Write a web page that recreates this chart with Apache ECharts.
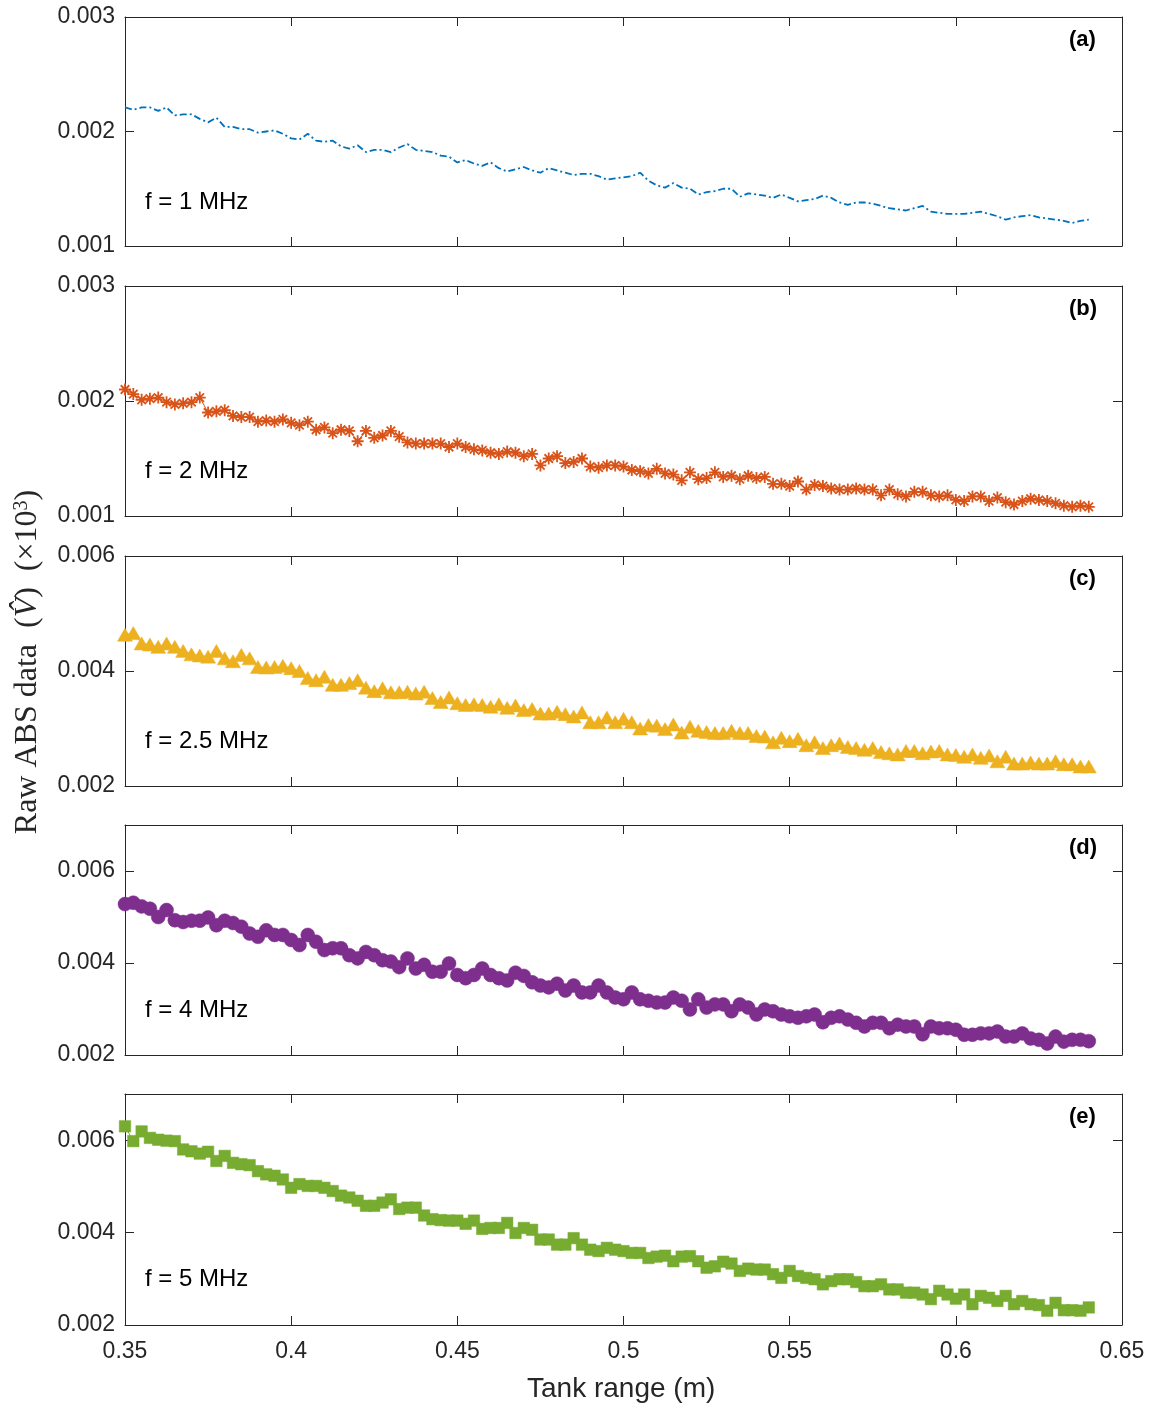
<!DOCTYPE html>
<html><head><meta charset="utf-8">
<script src="https://cdn.jsdelivr.net/npm/echarts@6/dist/echarts.min.js"></script>
<style>html,body{margin:0;padding:0;background:#fff}#c{width:1160px;height:1409px}</style>
</head><body><div id="c"></div>
<script>
// ---- data ----
const tankRange = [
0.35,0.3525,0.355,0.3575,0.36,0.3625,0.365,0.3675,0.37,0.3725,
0.375,0.3775,0.38,0.3825,0.385,0.3875,0.39,0.3925,0.395,0.3975,
0.4,0.4025,0.405,0.4075,0.41,0.4125,0.415,0.4175,0.42,0.4225,
0.425,0.4275,0.43,0.4325,0.435,0.4375,0.44,0.4425,0.445,0.4475,
0.45,0.4525,0.455,0.4575,0.46,0.4625,0.465,0.4675,0.47,0.4725,
0.475,0.4775,0.48,0.4825,0.485,0.4875,0.49,0.4925,0.495,0.4975,
0.5,0.5025,0.505,0.5075,0.51,0.5125,0.515,0.5175,0.52,0.5225,
0.525,0.5275,0.53,0.5325,0.535,0.5375,0.54,0.5425,0.545,0.5475,
0.55,0.5525,0.555,0.5575,0.56,0.5625,0.565,0.5675,0.57,0.5725,
0.575,0.5775,0.58,0.5825,0.585,0.5875,0.59,0.5925,0.595,0.5975,
0.6,0.6025,0.605,0.6075,0.61,0.6125,0.615,0.6175,0.62,0.6225,
0.625,0.6275,0.63,0.6325,0.635,0.6375,0.64];

const sig1MHz = [
0.00221,0.00219,0.00221,0.00221,0.00218,0.00221,0.00214,0.00215,0.00215,0.00211,
0.00208,0.00212,0.00204,0.00204,0.00202,0.00202,0.00199,0.00200,0.00201,0.00198,
0.00194,0.00193,0.00198,0.00192,0.00191,0.00192,0.00187,0.00185,0.00188,0.00182,
0.00184,0.00184,0.00182,0.00186,0.00189,0.00184,0.00183,0.00182,0.00179,0.00178,
0.00173,0.00175,0.00172,0.00170,0.00173,
0.00168,0.00165,0.00167,0.00169,0.00166,0.00164,0.00168,0.00166,0.00164,0.00162,
0.00163,0.00163,0.00161,0.00158,0.00159,0.00160,0.00161,0.00164,0.00157,0.00153,
0.00151,0.00155,0.00151,0.00150,0.00145,0.00147,0.00148,0.00150,0.00150,0.00143,
0.00146,0.00145,0.00144,0.00142,0.00145,0.00142,0.00139,0.00140,0.00141,0.00144,
0.00142,0.00138,0.00136,0.00138,0.00138,0.00137,0.00135,0.00133,0.00132,0.00131,
0.00133,0.00135,0.00130,0.00129,0.00128,0.00128,0.00128,0.00129,0.00130,0.00128,
0.00126,0.00123,0.00125,0.00126,0.00127,0.00125,0.00124,0.00123,0.00122,0.00120,
0.00122,0.00123];

const sig2MHz = [
0.00210,0.00206,0.00201,0.00202,0.00203,0.00199,0.00197,0.00198,0.00199,0.00203,
0.00190,0.00191,0.00192,0.00187,0.00186,0.00186,0.00182,0.00183,0.00182,0.00184,
0.00181,0.00179,0.00182,0.00175,0.00177,0.00172,0.00175,0.00174,0.00165,0.00174,
0.00168,0.00170,0.00174,0.00169,0.00164,0.00163,0.00163,0.00163,0.00163,0.00160,
0.00163,0.00160,0.00158,0.00157,0.00155,
0.00154,0.00156,0.00155,0.00152,0.00154,0.00144,0.00150,0.00152,0.00146,0.00147,
0.00150,0.00143,0.00142,0.00144,0.00144,0.00143,0.00140,0.00139,0.00137,0.00141,
0.00137,0.00136,0.00131,0.00138,0.00132,0.00133,0.00138,0.00134,0.00135,0.00132,
0.00135,0.00133,0.00134,0.00128,0.00128,0.00126,0.00130,0.00123,0.00127,0.00126,
0.00124,0.00123,0.00123,0.00124,0.00123,0.00123,0.00118,0.00123,0.00119,0.00117,
0.00121,0.00121,0.00118,0.00117,0.00118,0.00114,0.00113,0.00117,0.00117,0.00113,
0.00116,0.00112,0.00110,0.00113,0.00115,0.00114,0.00113,0.00111,0.00109,0.00108,
0.00109,0.00108];

const sig25MHz = [
0.00463,0.00466,0.00448,0.00446,0.00442,0.00448,0.00442,0.00435,0.00429,0.00427,
0.00425,0.00435,0.00422,0.00417,0.00428,0.00422,0.00407,0.00406,0.00407,0.00409,
0.00405,0.00400,0.00388,0.00384,0.00390,0.00376,0.00376,0.00379,0.00384,0.00371,
0.00365,0.00370,0.00363,0.00363,0.00364,0.00361,0.00364,0.00353,0.00346,0.00354,
0.00344,0.00341,0.00342,0.00341,0.00338,
0.00342,0.00336,0.00340,0.00332,0.00334,0.00326,0.00326,0.00329,0.00325,0.00321,
0.00328,0.00311,0.00311,0.00319,0.00311,0.00317,0.00311,0.00300,0.00306,0.00305,
0.00299,0.00307,0.00293,0.00303,0.00296,0.00294,0.00292,0.00292,0.00296,0.00292,
0.00292,0.00287,0.00286,0.00276,0.00284,0.00278,0.00282,0.00271,0.00276,0.00266,
0.00271,0.00274,0.00268,0.00266,0.00263,0.00266,0.00259,0.00257,0.00255,0.00261,
0.00261,0.00257,0.00260,0.00261,0.00255,0.00254,0.00251,0.00255,0.00249,0.00253,
0.00243,0.00251,0.00239,0.00239,0.00241,0.00239,0.00239,0.00243,0.00238,0.00238,
0.00234,0.00234];

const sig4MHz = [
0.00528,0.00531,0.00523,0.00518,0.00500,0.00515,0.00493,0.00489,0.00492,0.00492,
0.00499,0.00482,0.00492,0.00487,0.00479,0.00464,0.00457,0.00471,0.00461,0.00461,
0.00450,0.00439,0.00461,0.00446,0.00428,0.00432,0.00432,0.00417,0.00410,0.00424,
0.00417,0.00406,0.00403,0.00391,0.00410,0.00388,0.00396,0.00381,0.00381,0.00399,
0.00374,0.00367,0.00374,0.00388,0.00374,
0.00367,0.00362,0.00379,0.00372,0.00358,0.00351,0.00347,0.00355,0.00340,0.00351,
0.00336,0.00336,0.00351,0.00336,0.00325,0.00321,0.00336,0.00321,0.00318,0.00314,
0.00314,0.00325,0.00318,0.00299,0.00321,0.00303,0.00310,0.00310,0.00295,0.00310,
0.00303,0.00288,0.00299,0.00295,0.00288,0.00284,0.00281,0.00284,0.00288,0.00271,
0.00281,0.00284,0.00277,0.00270,0.00262,0.00270,0.00270,0.00258,0.00266,0.00262,
0.00262,0.00245,0.00262,0.00258,0.00258,0.00255,0.00244,0.00244,0.00247,0.00247,
0.00251,0.00240,0.00240,0.00247,0.00236,0.00233,0.00225,0.00240,0.00229,0.00233,
0.00233,0.00230];

const sig5MHz = [
0.00630,0.00598,0.00619,0.00605,0.00601,0.00599,0.00598,0.00580,0.00576,0.00571,
0.00575,0.00555,0.00566,0.00551,0.00548,0.00546,0.00533,0.00526,0.00523,0.00515,
0.00497,0.00505,0.00501,0.00501,0.00497,0.00490,0.00480,0.00476,0.00469,0.00458,
0.00458,0.00465,0.00472,0.00451,0.00454,0.00454,0.00437,0.00429,0.00427,0.00426,
0.00426,0.00419,0.00426,0.00408,0.00410,
0.00410,0.00421,0.00399,0.00410,0.00406,0.00385,0.00385,0.00374,0.00374,0.00388,
0.00374,0.00363,0.00360,0.00367,0.00363,0.00360,0.00356,0.00356,0.00345,0.00348,
0.00350,0.00338,0.00348,0.00349,0.00338,0.00324,0.00327,0.00337,0.00333,0.00317,
0.00322,0.00320,0.00320,0.00310,0.00302,0.00317,0.00306,0.00302,0.00299,0.00288,
0.00295,0.00299,0.00299,0.00293,0.00284,0.00284,0.00288,0.00277,0.00277,0.00270,
0.00270,0.00266,0.00256,0.00274,0.00266,0.00257,0.00266,0.00245,0.00263,0.00259,
0.00252,0.00263,0.00245,0.00252,0.00245,0.00243,0.00231,0.00248,0.00232,0.00232,
0.00231,0.00238];

const panelLabels = ['(a)','(b)','(c)','(d)','(e)'];
const freqLabels = ['f = 1 MHz','f = 2 MHz','f = 2.5 MHz','f = 4 MHz','f = 5 MHz'];
const yMin = [0.001,0.001,0.002,0.002,0.002];
const yMax = [0.003,0.003,0.006,0.007,0.007];
const yStep = [0.001,0.001,0.002,0.002,0.002];
const xMin = 0.35, xMax = 0.65, xStep = 0.05;
const xLabel = 'Tank range (m)';

// ---- layout / style ----
const series = [sig1MHz, sig2MHz, sig25MHz, sig4MHz, sig5MHz];
const colors = ['#0072BD','#D95319','#EDB120','#7E2F8E','#77AC30'];
const tops = [17,286,556,825,1094];
const hts = [229,230,230,230,231];
const L = 125, W = 997;
const axC = '#262626';
const fontF = 'Arial, "Liberation Sans", Helvetica, sans-serif';
const TICK = 23;
const serifF = '"Liberation Serif", "DejaVu Serif", serif';

const grids=[], xAxes=[], yAxes=[], ser=[], graphics=[];
for (let i=0;i<5;i++){
  grids.push({left:L, top:tops[i], width:W, height:hts[i], containLabel:false});
  const axLine = {show:true, onZero:false, lineStyle:{color:axC, width:1}};
  const axTick = {show:true, inside:true, length:9, lineStyle:{color:axC, width:1}};
  xAxes.push({type:'value', gridIndex:i, position:'bottom', min:xMin, max:xMax, interval:xStep,
    axisLine:axLine, axisTick:axTick, splitLine:{show:false},
    axisLabel:{show:i===4, fontSize:TICK, fontFamily:fontF, color:axC, margin:15,
      formatter:v=>String(parseFloat(v.toFixed(2)))}});
  xAxes.push({type:'value', gridIndex:i, position:'top', min:xMin, max:xMax, interval:xStep,
    axisLine:axLine, axisTick:axTick, splitLine:{show:false}, axisLabel:{show:false}});
  const mn=yMin[i], st=yStep[i];
  yAxes.push({type:'value', gridIndex:i, position:'left', min:mn, max:yMax[i], interval:st,
    axisLine:axLine, axisTick:axTick, splitLine:{show:false},
    axisLabel:{fontSize:TICK, fontFamily:fontF, color:axC, margin:10,
      formatter:v=>{const k=(v-mn)/st; if(Math.abs(k-Math.round(k))>1e-6) return ''; return v.toFixed(3);}}});
  yAxes.push({type:'value', gridIndex:i, position:'right', min:mn, max:yMax[i], interval:st,
    axisLine:axLine, axisTick:axTick, splitLine:{show:false}, axisLabel:{show:false}});

  const data = tankRange.map((x,j)=>[x, series[i][j]]);
  const s = {type:'line', xAxisIndex:2*i, yAxisIndex:2*i, data:data, animation:false,
    color:colors[i], lineStyle:{color:colors[i], width:1}, emphasis:{disabled:true}};
  if (i===0){
    s.showSymbol=false; s.symbol='none';
    s.lineStyle={color:colors[i], width:1.8, type:[7,3,2,3]};
  } else if (i===1){
    s.symbol='path://M0,-10L0,10M-10,0L10,0M-7.07,-7.07L7.07,7.07M-7.07,7.07L7.07,-7.07';
    s.symbolSize=12;
    s.itemStyle={color:'rgba(0,0,0,0)', borderColor:colors[i], borderWidth:1.8};
  } else if (i===2){
    s.symbol='triangle'; s.symbolSize=[15,13];
    s.itemStyle={color:colors[i], borderColor:colors[i], borderWidth:0.5};
  } else if (i===3){
    s.symbol='circle'; s.symbolSize=14;
    s.itemStyle={color:colors[i], borderColor:colors[i], borderWidth:0.5};
  } else {
    s.symbol='rect'; s.symbolSize=11.5;
    s.itemStyle={color:colors[i], borderColor:colors[i], borderWidth:0.5};
  }
  ser.push(s);

  graphics.push({type:'text', left:1069, top:tops[i]+12,
    style:{text:panelLabels[i], font:'bold 22px '+fontF, fill:'#000'}});
  graphics.push({type:'text', left:145, top:tops[i]+173,
    style:{text:freqLabels[i], font:'24px '+fontF, fill:'#000'}});
}
graphics.push({type:'text', left:527, top:1375,
  style:{text:xLabel, font:'28px '+fontF, fill:axC}});
graphics.push({type:'text', x:28, y:662, rotation:Math.PI/2,
  style:{text:'{n|Raw ABS data  }{n|(}{i|V\u0302}{n|)  (\u00d710}{s|3}{n|)}',
    align:'center', verticalAlign:'middle',
    rich:{n:{font:'32px '+serifF, fill:axC},
          i:{font:'italic 32px '+serifF, fill:axC},
          s:{font:'20px '+serifF, fill:axC, verticalAlign:'top', padding:[0,0,12,0]}}}});

const chart = echarts.init(document.getElementById('c'), null, {renderer:'canvas'});
chart.setOption({animation:false, backgroundColor:'#fff', grid:grids, xAxis:xAxes, yAxis:yAxes, series:ser, graphic:graphics});
</script></body></html>
